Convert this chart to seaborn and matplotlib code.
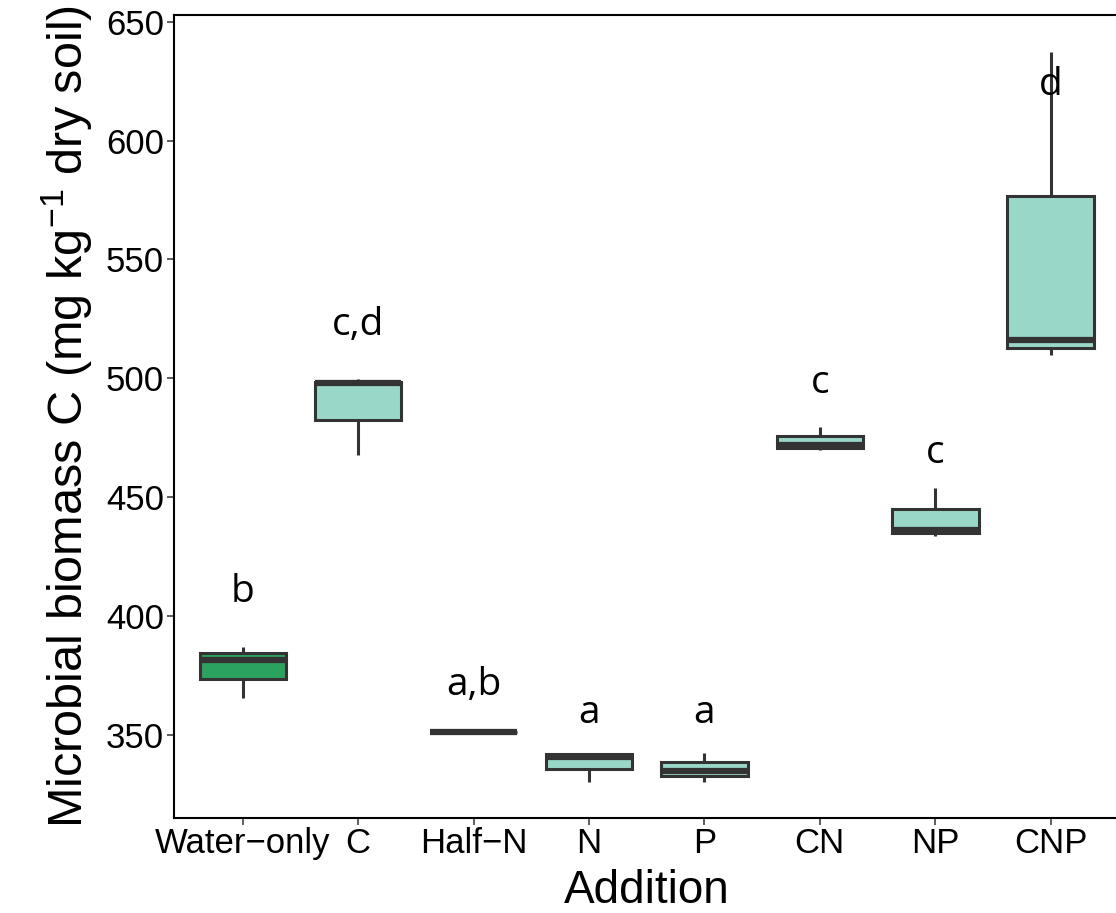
import pandas as pd
import seaborn as sns
from matplotlib import pyplot as plt
import numpy as np

# five-number summaries (min, q1, median, q3, max)
additions = ["Water\u2212only", "C", "Half\u2212N", "N", "P", "CN", "NP", "CNP"]
water_only = [365.5, 373.4, 381.4, 384.2, 386.7]
c_add = [467.7, 482.4, 497.9, 498.6, 499.7]
half_n = [351.2, 351.2, 351.2, 351.2, 351.2]
n_add = [330.1, 335.3, 340.7, 341.7, 342.1]
p_add = [330.1, 332.5, 334.8, 338.6, 342.1]
cn_add = [469.8, 470.5, 471.9, 475.7, 479.6]
np_add = [433.7, 434.9, 436.1, 444.9, 453.9]
cnp_add = [509.8, 512.9, 516.1, 576.9, 637.5]

letters = ["b", "c,d", "a,b", "a", "a", "c", "c", "d"]
letter_y = [405.9, 518.2, 366.6, 355.0, 355.0, 493.7, 464.4, 619.3]

colors = ["#2ca25f"] + ["#99d8c9"] * 7


def get_data_frame():
    groups = [water_only, c_add, half_n, n_add, p_add, cn_add, np_add, cnp_add]
    rows = []
    for name, vals in zip(additions, groups):
        for v in vals:
            rows.append({"addition": name, "mbc": v})
    return pd.DataFrame(rows)


def plot_biomass():
    df = get_data_frame()
    sns.set_style("white")
    plt.rcParams["font.family"] = ["Liberation Sans", "DejaVu Sans"]
    plt.rcParams["mathtext.fontset"] = "custom"
    plt.rcParams["mathtext.rm"] = "Liberation Sans"
    plt.rcParams["mathtext.it"] = "Liberation Sans:italic"
    plt.rcParams["text.color"] = "black"
    plt.rcParams["axes.labelcolor"] = "black"
    plt.rcParams["xtick.labelcolor"] = "black"
    plt.rcParams["ytick.labelcolor"] = "black"

    fig = plt.figure(figsize=(11.16, 9.13), dpi=100)
    ax = fig.add_axes([0.1555, 0.1044, 0.848, 0.8792])

    sns.boxplot(data=df, x="addition", y="mbc", hue="addition", order=additions,
                palette=dict(zip(additions, colors)), legend=False, width=0.75,
                linecolor="#333333", linewidth=2.2, whis=(0, 100), showcaps=False,
                medianprops={"linewidth": 4.5}, saturation=1, ax=ax)

    for i, (lab, y) in enumerate(zip(letters, letter_y)):
        ax.text(i, y, lab, ha="center", va="baseline", fontsize=28,
                family=["Open Sans", "DejaVu Sans"], color="black")

    ax.set_xlim(-0.6, 7.6)
    ax.set_ylim(315.0, 652.9)
    ax.set_yticks(np.arange(350, 651, 50))
    ax.set_xlabel("Addition", fontsize=33, labelpad=6)
    ax.set_ylabel("Microbial biomass C (mg kg$^{-1}$ dry soil)", fontsize=35, labelpad=8)
    ax.tick_params(axis="both", labelsize=25, length=5, width=1.1, color="#333333",
                   pad=2, left=True, bottom=True)

    for side in ["left", "bottom", "top"]:
        ax.spines[side].set_visible(True)
        ax.spines[side].set_color("black")
        ax.spines[side].set_linewidth(1.5)
    ax.spines["right"].set_visible(False)

    fig.savefig("out.png", dpi=100)


plot_biomass()
